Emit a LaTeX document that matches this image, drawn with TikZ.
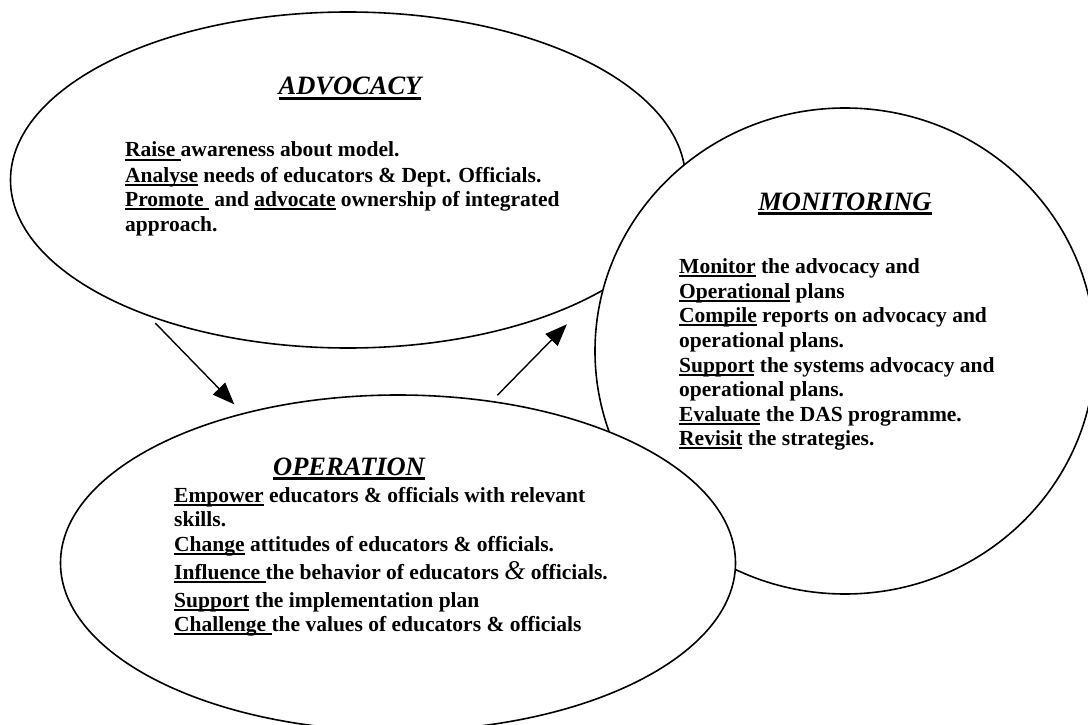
\documentclass[tikz,border=0pt]{standalone}
\usepackage{fontspec}
\setmainfont{Liberation Serif}
\usetikzlibrary{arrows.meta,shapes.geometric}

% underlined keyword: rule drawn at a fixed depth under the box
\newsavebox\ulbox
\newcommand\ulw[1]{\sbox\ulbox{#1}\rlap{\rule[-3.8pt]{\wd\ulbox}{1.5pt}}\usebox\ulbox}
\newcommand\ult[1]{\sbox\ulbox{#1}\rlap{\rule[-4.6pt]{\wd\ulbox}{2.6pt}}\usebox\ulbox}
\newcommand\bigamp{{\fontsize{27}{27}\selectfont\mdseries\itshape\&}}

\begin{document}
\begin{tikzpicture}[x=1pt,y=-1pt,
  blob/.style={draw, fill=white, line width=1.6pt, ellipse, inner sep=0pt, outer sep=0pt},
  heading/.style={anchor=base, inner sep=0pt, font=\fontsize{26.5}{30}\selectfont\bfseries\itshape},
  body/.style={anchor=base west, inner sep=0pt, font=\fontsize{21.5}{24}\selectfont\bfseries},
  flow/.style={line width=1.4pt, -{Triangle[length=22pt,width=17pt]}}]
\useasboundingbox (0,0) rectangle (1088,725);
\clip (0,0) rectangle (1088,725);

% the three phases, later ones drawn over earlier ones
\node[blob, minimum width=675pt, minimum height=336pt] (adv) at (348,180) {};
\node[blob, minimum width=500pt, minimum height=486pt] (mon) at (845,351) {};
\node[blob, minimum width=675pt, minimum height=336pt] (op)  at (398,563) {};

% advocacy
\node[heading] (advT) at (350,95) {\ult{ADVOCACY}};
\node[body] (adv1) at (125,157) {\ulw{Raise\ }awareness about model.};
\node[body] (adv2) at (125,182) {\ulw{Analyse} needs of educators \& Dept. Officials.};
\node[body] (adv3) at (125,206) {\ulw{Promote\ } and \ulw{advocate} ownership of integrated};
\node[body] (adv4) at (125,231) {approach.};

% monitoring
\node[heading] (monT) at (845,210) {\ult{MONITORING}};
\node[body] (mon1) at (679,273) {\ulw{Monitor} the advocacy and};
\node[body] (mon2) at (679,298) {\ulw{Operational} plans};
\node[body] (mon3) at (679,322) {\ulw{Compile} reports on advocacy and};
\node[body] (mon4) at (679,347) {operational plans.};
\node[body] (mon5) at (679,372) {\ulw{Support} the systems advocacy and};
\node[body] (mon6) at (679,396) {operational plans.};
\node[body] (mon7) at (679,421) {\ulw{Evaluate} the DAS programme.};
\node[body] (mon8) at (679,445) {\ulw{Revisit} the strategies.};

% operation
\node[heading] (opT) at (349,475) {\ult{OPERATION}};
\node[body] (op1) at (174,502) {\ulw{Empower} educators \& officials with relevant};
\node[body] (op2) at (174,526) {skills.};
\node[body] (op3) at (174,551) {\ulw{Change} attitudes of educators \& officials.};
\node[body] (op4) at (174,579) {\ulw{Influence\ }the behavior of educators \bigamp{} officials.};
\node[body] (op5) at (174,607) {\ulw{Support} the implementation plan};
\node[body] (op6) at (174,631) {\ulw{Challenge\ }the values of educators \& officials};

% cycle arrows
\draw[flow, shorten <=11pt, shorten >=13pt] (adv.214) -- (op.136.5);
\draw[flow, shorten <=8.8pt, shorten >=53pt] (op.60.35) -- (mon.165.1);
\end{tikzpicture}
\end{document}
